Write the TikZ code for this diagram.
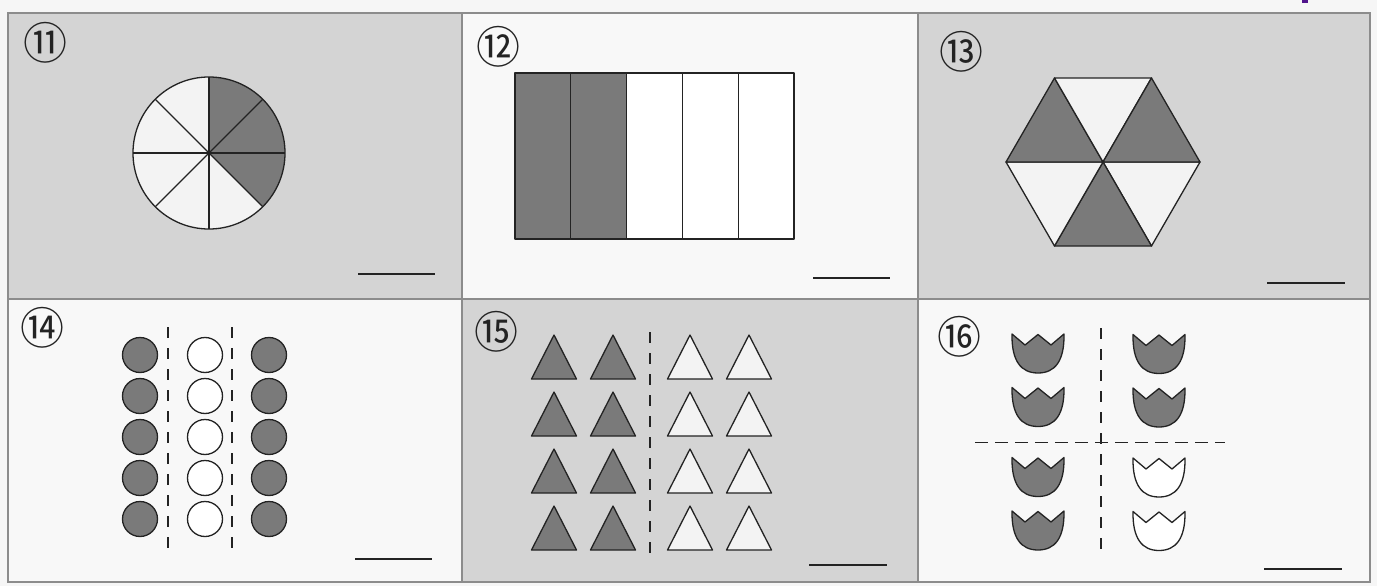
\documentclass[tikz,border=0pt]{standalone}
\usepackage{fontspec}
\usetikzlibrary{calc}
\newfontfamily\cjkfont{Noto Sans CJK SC}
\definecolor{pagebg}{RGB}{246,246,246}
\definecolor{panelgray}{RGB}{212,212,212}
\definecolor{paperwhite}{RGB}{248,248,248}
\definecolor{framegray}{RGB}{140,140,140}
\definecolor{darkfill}{RGB}{122,122,122}
\definecolor{lightfill}{RGB}{243,243,243}
\definecolor{inkline}{RGB}{35,35,35}
\definecolor{markpurple}{RGB}{80,20,140}
\tikzset{
  frameline/.style={draw=framegray, line width=2.4pt},
  shapeline/.style={draw=inkline, line width=1.3pt, line join=round},
  darkshape/.style={shapeline, fill=darkfill},
  lightshape/.style={shapeline, fill=lightfill},
  whiteshape/.style={shapeline, fill=white},
  cutline/.style={draw=inkline, line width=1.3pt, dash pattern=on 11pt off 10pt},
  answerline/.style={draw=inkline, line width=1.8pt},
  numlabel/.style={inner sep=0pt, text=inkline, font=\cjkfont\fontsize{44}{44}\selectfont},
  tulip/.pic={
    \path[pic actions] (-26,0) -- (-13,11) -- (0,0.5) -- (13,11) -- (26,0)
      .. controls (26.5,27) and (17,39) .. (0,39)
      .. controls (-17,39) and (-26.5,27) .. (-26,0) -- cycle;
  }
}
\begin{document}
\begin{tikzpicture}[x=1pt,y=-1pt]
\useasboundingbox (0,0) rectangle (1377,586);
\fill[pagebg] (0,0) rectangle (1377,586);
\fill[markpurple] (1302,0) rectangle (1308,3);
% panels
\fill[panelgray] (8,13) rectangle (462,299);
\fill[paperwhite] (462,13) rectangle (918,299);
\fill[panelgray] (918,13) rectangle (1370,299);
\fill[paperwhite] (8,299) rectangle (462,582);
\fill[panelgray] (462,299) rectangle (918,582);
\fill[paperwhite] (918,299) rectangle (1370,582);
\draw[frameline] (8,13) rectangle (1370,582);
\draw[frameline] (8,299) -- (1370,299);
\draw[frameline] (462,13) -- (462,582);
\draw[frameline] (918,13) -- (918,582);

% labels
\node[numlabel] (n11) at (45.5,42.5) {⑪};
\node[numlabel] (n12) at (498.5,46.7) {⑫};
\node[numlabel] (n13) at (961,51.3) {⑬};
\node[numlabel] (n14) at (42,327.7) {⑭};
\node[numlabel] (n15) at (496,332) {⑮};
\node[numlabel] (n16) at (959,337) {⑯};

% answer lines
\draw[answerline] (358,274) -- (435,274);
\draw[answerline] (813,278) -- (890,278);
\draw[answerline] (1267,283) -- (1345,283);
\draw[answerline] (355,559) -- (432,559);
\draw[answerline] (809,565) -- (887,565);
\draw[answerline] (1264,569) -- (1342,569);

% 11: pie
\coordinate (pc) at (209,153);
\fill[lightfill] (pc) circle (76);
\fill[darkfill] (pc) -- ++(-90:76) arc[start angle=-90, end angle=45, radius=76] -- cycle;
\foreach \a in {0,45,...,315} \draw[shapeline] (pc) -- ++(\a:76);
\draw[shapeline] (pc) circle (76);

% 12: rectangle in fifths
\foreach \i in {0,1,2,3,4} {
  \pgfmathsetmacro\xa{515+55.8*\i}
  \pgfmathsetmacro\xb{515+55.8*(\i+1)}
  \ifnum\i<2
    \draw[darkshape] (\xa,73) rectangle (\xb,239);
  \else
    \draw[whiteshape] (\xa,73) rectangle (\xb,239);
  \fi
}

% 13: hexagon
\coordinate (hc) at (1103,162);
\foreach \a/\st in {0/lightshape,60/darkshape,120/lightshape,180/darkshape,240/lightshape,300/darkshape}
  \draw[\st] (hc) -- ++(\a:97) -- ($(hc)+(\a+60:97)$) -- cycle;

% 14: circles
\foreach \y in {355,396,437,478,519} {
  \draw[darkshape] (140,\y) circle (17.5);
  \draw[whiteshape] (205,\y) circle (17.5);
  \draw[darkshape] (269,\y) circle (17.5);
}
\coordinate (d14a) at (168,327);
\coordinate (d14b) at (168,553);
\coordinate (d14c) at (232,327);
\coordinate (d14d) at (232,553);
\draw[cutline] (d14a) -- (d14b);
\draw[cutline] (d14c) -- (d14d);

% 15: triangles
\foreach \y in {335,392,449,506} {
  \foreach \x in {554,613} \draw[darkshape] (\x,\y) -- (\x+22.5,\y+44) -- (\x-22.5,\y+44) -- cycle;
  \foreach \x in {690,749} \draw[lightshape] (\x,\y) -- (\x+22.5,\y+44) -- (\x-22.5,\y+44) -- cycle;
}
\coordinate (d15a) at (650,332);
\coordinate (d15b) at (650,558);
\draw[cutline] (d15a) -- (d15b);

% 16: tulips
\foreach \y in {334,387.5,457.5,511} {
  \pic[darkshape] at (1038,\y) {tulip};
}
\pic[darkshape] at (1159,334.5) {tulip};
\pic[darkshape] at (1159,388) {tulip};
\pic[whiteshape] at (1159,458) {tulip};
\pic[whiteshape] at (1159,511.5) {tulip};
\coordinate (d16a) at (1101,328);
\coordinate (d16b) at (1101,557);
\coordinate (d16c) at (975,442.5);
\coordinate (d16d) at (1225,442.5);
\draw[cutline] (d16a) -- (d16b);
\draw[cutline, dash pattern=on 13pt off 7pt] (d16c) -- (d16d);
\end{tikzpicture}
\end{document}
